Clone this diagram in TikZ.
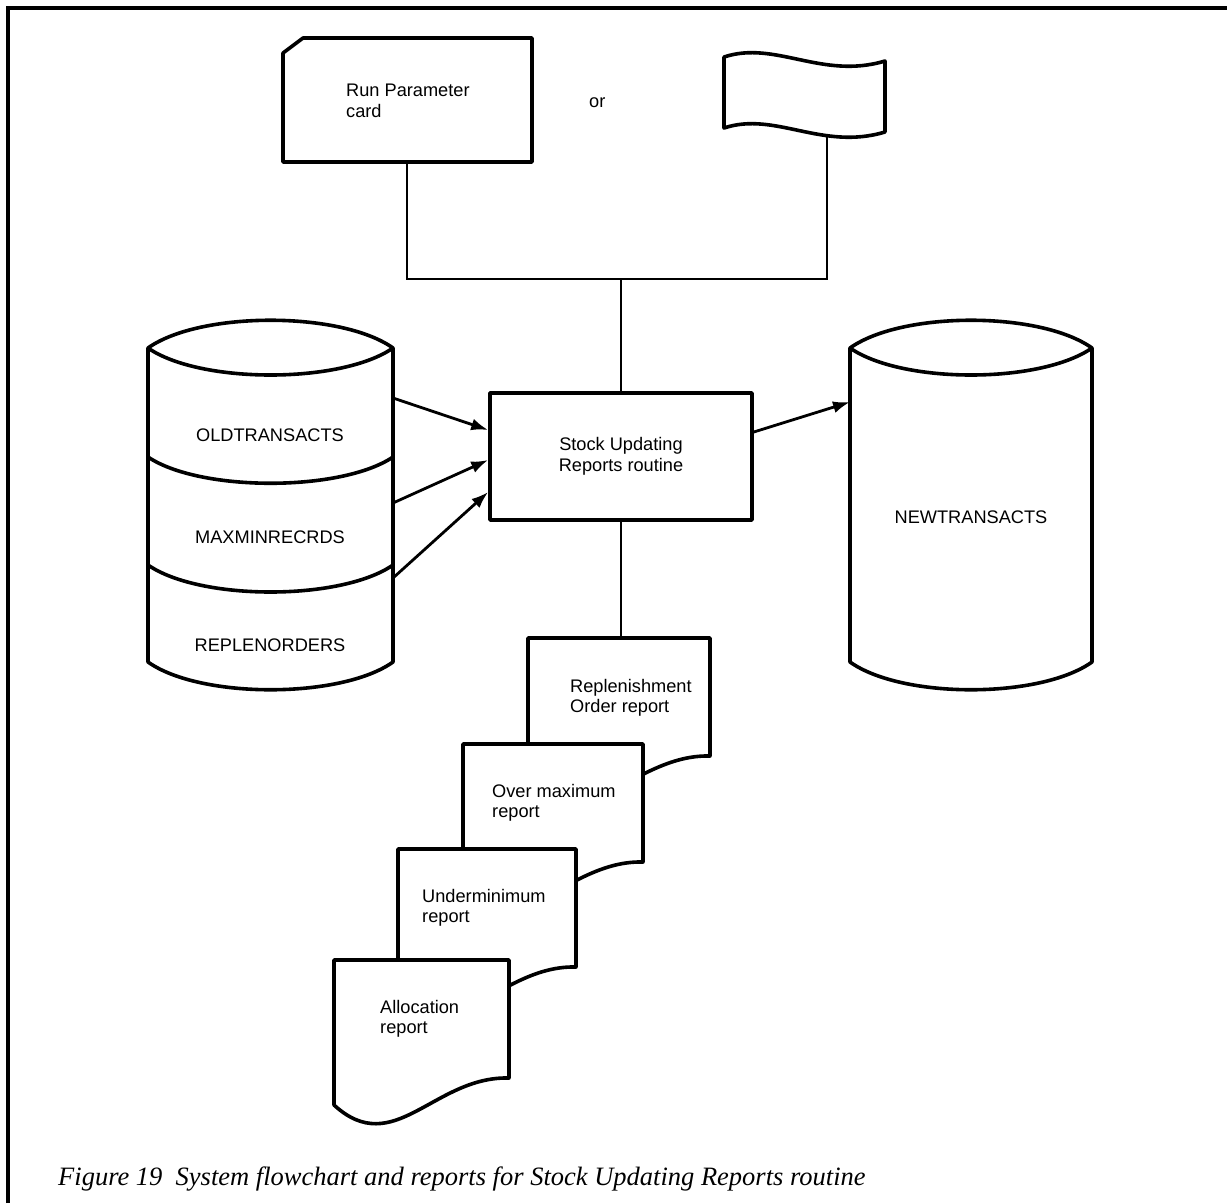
\documentclass[tikz,border=0pt]{standalone}
\usepackage{fontspec}
\setmainfont{Liberation Serif}
\setsansfont{Liberation Sans}
\usetikzlibrary{arrows.meta}

% one printed report sheet: left edge, top edge, width
\newcommand\sheetat[3]{%
  \draw[sheet] (#1,#2) -- ({#1+#3},#2) -- ({#1+#3},{#2+118})
    .. controls ({#1+#3-75},{#2+116}) and ({#1+60},{#2+200}) .. (#1,{#2+145}) -- cycle;}

\begin{document}
\begin{tikzpicture}[x=1pt,y=-1pt,
  outline/.style={line width=3.6pt, line join=round},
  link/.style={line width=2.8pt},
  flow/.style={link, -{Latex[length=17pt,width=12pt]}},
  lbl/.style={font=\sffamily\fontsize{18.2}{20.5}\selectfont, inner sep=0pt},
  sheet/.style={outline, fill=white},
]
\useasboundingbox (0,0) rectangle (1227,1203);

% frame
\draw[line width=4pt] (8,1203) -- (8,8) -- (1227,8);

% run parameter card
\draw[outline] (283,53) -- (303,38) -- (532,38) -- (532,162) -- (283,162) -- cycle;
\node[lbl, anchor=north west, align=left] (cardtext) at (346,84) {Run Parameter\\card};
\coordinate (cardbot) at (407,162);

\node[lbl, anchor=base west] (ortext) at (589,107) {or};

% punched tape
\draw[outline] (724,57) .. controls (775,40) and (822,80) .. (885,61) -- (885,132)
  .. controls (822,151) and (775,111) .. (724,128) -- cycle;
\coordinate (tapebot) at (827,137);

% processing box
\node[draw, outline, minimum width=262pt, minimum height=127pt, lbl, align=center]
  (proc) at (621,456.5) {Stock Updating\\Reports routine};

% input bus
\coordinate (bus) at (621,279);
\draw[link] (cardbot) -- (cardbot |- bus) -- (tapebot |- bus) -- (tapebot);
\draw[link] (bus) -- (proc.north);

% stacked disk files
\draw[outline, fill=white] (148,348) .. controls (200,311) and (341,311) .. (393,348)
  -- (393,662) .. controls (341,699) and (200,699) .. (148,662) -- cycle;
\draw[outline] (148,348) .. controls (200,384) and (341,384) .. (393,348);
\draw[outline] (148,457) .. controls (200,492) and (341,492) .. (393,457);
\draw[outline] (148,565) .. controls (200,601) and (341,601) .. (393,565);
\node[lbl, anchor=base] (old) at (270,441) {OLDTRANSACTS};
\node[lbl, anchor=base] (maxmin) at (270,543) {MAXMINRECRDS};
\node[lbl, anchor=base] (replen) at (270,651) {REPLENORDERS};
\coordinate (oldout) at (393,398);
\coordinate (maxout) at (393,503);
\coordinate (repout) at (393,578);

% output disk file
\draw[outline, fill=white] (850,348) .. controls (902,311) and (1040,311) .. (1092,348)
  -- (1092,662) .. controls (1040,699) and (902,699) .. (850,662) -- cycle;
\draw[outline] (850,348) .. controls (902,384) and (1040,384) .. (1092,348);
\node[lbl, anchor=base] (newt) at (971,523) {NEWTRANSACTS};
\coordinate (newin) at (850,402);

% data flows
\draw[flow] (oldout) -- ([yshift=26.5pt]proc.west);
\draw[flow] (maxout) -- ([yshift=-3.5pt]proc.west);
\draw[flow] (repout) -- ([yshift=-35.5pt]proc.west);
\draw[flow] ([yshift=24.5pt]proc.east) -- (newin);

% printed reports
\coordinate (reptop) at (621,638);
\draw[link] (proc.south) -- (reptop);
\sheetat{528}{638}{182}
\node[lbl, anchor=north west, align=left] (rep1) at (570,679) {Replenishment\\Order report};
\sheetat{463}{744}{180}
\node[lbl, anchor=north west, align=left] (rep2) at (492,784) {Over maximum\\report};
\sheetat{398}{849}{178}
\node[lbl, anchor=north west, align=left] (rep3) at (422,889) {Underminimum\\report};
\sheetat{334}{960}{175}
\node[lbl, anchor=north west, align=left] (rep4) at (380,1000) {Allocation\\report};

% caption
\node[anchor=base west, inner sep=0pt, font=\fontsize{26.5}{30}\selectfont\itshape]
  (caption) at (58,1185) {Figure 19\ \ System flowchart and reports for Stock Updating Reports routine};
\end{tikzpicture}
\end{document}
